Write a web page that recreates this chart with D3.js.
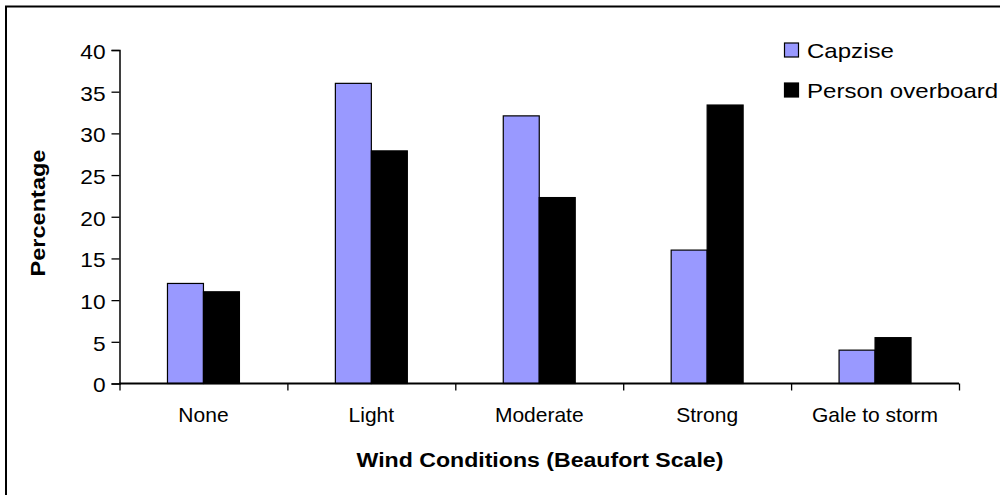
<!DOCTYPE html>
<html>
<head>
<meta charset="utf-8">
<script src="https://cdn.jsdelivr.net/npm/d3@7"></script>
<style>
  html, body { margin: 0; padding: 0; background: #fff; }
  svg { display: block; font-family: "Liberation Sans", Arial, sans-serif; }
</style>
</head>
<body>
<svg id="chart" width="1000" height="495"></svg>
<script>
const categories = ["None", "Light", "Moderate", "Strong", "Gale to storm"];
const seriesNames = ["Capzise", "Person overboard"];
const capsize = [12, 36, 32.1, 16, 4];
const personOverboard = [11, 27.9, 22.3, 33.4, 5.5];
const yTicks = [0, 5, 10, 15, 20, 25, 30, 35, 40];
const colors = ["#9999ff", "#000000"];

const svg = d3.select("#chart");
const W = 1000, H = 495;
const plot = { left: 119.5, right: 959, top: 50, bottom: 383.5 };

// stretch text horizontally (the reference's text is rendered wider than its height suggests)
function stretch(sel, k) {
  sel.each(function () {
    const len = this.getComputedTextLength();
    d3.select(this).attr("textLength", len * k).attr("lengthAdjust", "spacingAndGlyphs");
  });
}

// outer frame
svg.append("rect").attr("x", 6).attr("y", 6.5).attr("width", W + 20).attr("height", H + 20)
  .attr("fill", "#fff").attr("stroke", "#000").attr("stroke-width", 2);

const x = d3.scaleBand().domain(categories).range([plot.left, plot.right]).padding(0);
const barW = x.bandwidth() * 36 / 168;
const xs = d3.scaleBand().domain(seriesNames).range([0, 2 * barW]).padding(0);
const y = d3.scaleLinear().domain([0, 40]).range([plot.bottom, plot.top]);

const data = seriesNames.map((s, i) => ({
  name: s, color: colors[i],
  values: categories.map((c, j) => ({ cat: c, v: i === 0 ? capsize[j] : personOverboard[j] }))
}));

// bars
const g = svg.append("g");
data.forEach(s => {
  g.selectAll(null).data(s.values).enter().append("rect")
    .attr("x", d => x(d.cat) + x.bandwidth() / 2 - barW + xs(s.name))
    .attr("y", d => y(d.v))
    .attr("width", xs.bandwidth())
    .attr("height", d => y(0) - y(d.v))
    .attr("fill", s.color)
    .attr("stroke", "#000").attr("stroke-width", 1.2);
});

// y axis
const yAxis = svg.append("g").attr("transform", `translate(${plot.left},0)`)
  .call(d3.axisLeft(y).tickValues(yTicks).tickSize(8).tickPadding(6));
yAxis.select(".domain").attr("stroke-width", 1.5);
yAxis.selectAll(".tick line").attr("stroke-width", 1.3);
yAxis.selectAll(".tick text").attr("font-size", 21).attr("fill", "#000")
  .attr("font-family", "Liberation Sans, Arial, sans-serif").attr("dy", "0.4em")
  .call(stretch, 1.08);

// x axis: boundary ticks
const xb = d3.scaleLinear().domain([0, categories.length]).range([plot.left, plot.right]);
const xAxis = svg.append("g").attr("transform", `translate(0,${plot.bottom})`)
  .call(d3.axisBottom(xb).ticks(categories.length).tickSize(7).tickFormat(""));
xAxis.select(".domain").attr("stroke-width", 2).attr("d", `M${plot.left},0H${plot.right}`);
xAxis.selectAll(".tick line").attr("stroke-width", 1.3);

// x labels
const xl = svg.append("g").attr("transform", `translate(0,${plot.bottom})`)
  .call(d3.axisBottom(x).tickSize(0).tickPadding(24));
xl.select(".domain").remove();
xl.selectAll(".tick text").attr("font-size", 21).attr("fill", "#000")
  .attr("font-family", "Liberation Sans, Arial, sans-serif");

// axis titles
svg.append("text").attr("x", 540).attr("y", 467).attr("text-anchor", "middle")
  .attr("font-size", 20).attr("font-weight", "bold").text("Wind Conditions (Beaufort Scale)")
  .call(stretch, 1.155);
svg.append("text").attr("transform", "translate(45,213) rotate(-90)").attr("text-anchor", "middle")
  .attr("font-size", 21).attr("font-weight", "bold").text("Percentage")
  .call(stretch, 1.12);

// legend
const leg = svg.append("g").attr("transform", "translate(784,43)");
data.forEach((s, i) => {
  const row = leg.append("g").attr("transform", `translate(0,${i * 40})`);
  row.append("rect").attr("x", 0.5).attr("y", 0).attr("width", 14).attr("height", 14)
    .attr("fill", s.color).attr("stroke", "#000").attr("stroke-width", 1.2);
  row.append("text").attr("x", 23).attr("y", 15).attr("font-size", 21).text(s.name)
    .call(stretch, 1.145);
});
</script>
</body>
</html>
